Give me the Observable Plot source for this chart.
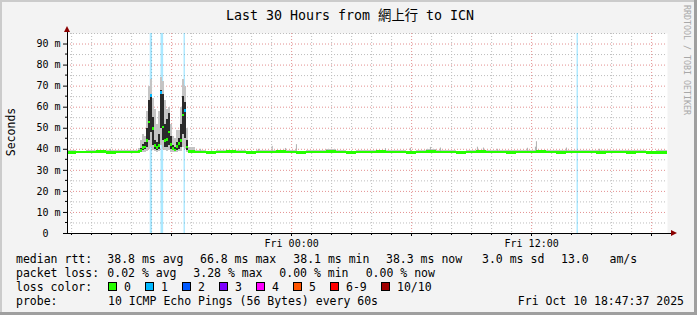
<!DOCTYPE html>
<html>
<head>
<meta charset="utf-8">
<script src="https://cdn.jsdelivr.net/npm/d3@7"></script>
<script src="https://cdn.jsdelivr.net/npm/@observablehq/plot@0.6"></script>
<style>
  html, body { margin: 0; padding: 0; background: #f3f3f3; }
  #chart { width: 697px; height: 315px; overflow: hidden; }
</style>
</head>
<body>
<div id="chart"></div>
<script>
// ---------- DATA (hours since Thu 00:00, values in ms) ----------
const tStart = 12 + 47/60 + 37/3600;   // Thu Oct 9 12:47:37
const tEnd = tStart + 30;               // Fri Oct 10 18:47:37

const baseTimes = [13.0,13.5,14.0,14.5,15.0,15.5,16.0,
  19.5,20.0,20.5,21.0,21.5,22.0,22.5,23.0,23.5,24.0,
  24.5,25.0,25.5,26.0,26.5,27.0,27.5,28.0,28.5,29.0,
  29.5,30.0,30.5,31.0,31.5,32.0,32.5,33.0,33.5,34.0,
  34.5,35.0,35.5,36.0,36.5,37.0,37.5,38.0,38.5,39.0,
  39.5,40.0,40.5,41.0,41.5,42.0,42.5];
const baseMedian = [38.3,38.5,38.4,38.6,38.3,38.5,38.4,
  38.4,38.3,38.5,38.6,38.4,38.3,38.5,38.4,38.6,38.5,
  38.3,38.4,38.5,38.6,38.4,38.3,38.5,38.4,38.6,38.5,
  38.4,38.3,38.5,38.6,38.4,38.5,38.3,38.4,38.6,38.5,
  38.4,38.3,38.5,38.4,38.6,38.5,38.3,38.4,38.5,38.4,
  38.3,38.4,38.5,38.3,38.4,38.2,38.3];
const baseMin = [38.0,38.2,38.1,38.2,38.0,38.2,38.1,
  38.1,38.0,38.2,38.2,38.1,38.0,38.2,38.1,38.2,38.2,
  38.0,38.1,38.2,38.2,38.1,38.0,38.2,38.1,38.3,38.2,
  38.1,38.0,38.2,38.2,38.1,38.2,38.0,38.1,38.2,38.2,
  38.1,38.0,38.2,38.1,38.2,38.2,38.0,38.1,38.2,38.1,
  38.0,38.1,38.2,38.0,38.1,37.9,38.0];
const baseMax = [39.2,39.0,39.4,39.1,39.3,39.6,39.4,
  39.3,39.1,39.5,39.2,39.4,39.0,39.6,39.3,39.2,39.5,
  39.1,39.4,39.3,39.7,39.2,39.1,39.5,39.3,39.6,39.4,
  39.2,39.1,39.5,39.8,39.3,39.4,39.1,39.3,39.6,39.4,
  39.3,39.2,39.5,39.3,39.6,39.4,39.2,39.3,39.5,39.3,
  39.2,39.3,39.4,39.2,39.3,39.1,39.2];

const burstTimes  = [16.3,16.4,16.5,16.6,16.7,16.8,16.9,17.0,17.1,17.2,17.3,17.4,17.5,17.6,
  17.7,17.8,17.9,18.0,18.1,18.2,18.3,18.4,18.5,18.6,18.7,18.8,18.9];
const burstMedian = [38.4,38.6,39.2,40.5,40.9,44.0,52.7,65.4,49.7,41.7,40.5,41.7,66.8,50.4,
  44.0,44.5,48.0,42.0,40.0,39.5,41.0,42.5,44.0,56.0,58.3,40.9,38.6];
const burstMin    = [38.1,38.2,38.3,38.5,38.6,39.0,40.0,41.0,39.5,38.8,38.6,38.8,42.0,40.0,
  39.2,39.0,39.5,38.7,38.5,38.4,38.6,38.8,39.0,41.0,40.0,38.6,38.2];
const burstQ1     = [38.3,38.4,38.7,39.5,39.8,41.0,44.0,48.0,42.0,40.0,39.5,40.0,50.0,44.0,
  41.0,41.0,42.0,40.0,39.3,39.0,39.5,40.0,41.0,47.0,45.0,39.5,38.4];
const burstQ3     = [38.8,39.2,40.5,42.5,43.0,50.0,63.0,66.0,55.0,44.0,43.0,47.0,68.0,66.0,
  52.0,54.0,57.0,46.0,42.0,41.0,43.0,45.0,52.0,65.0,62.0,44.0,39.5];
const burstMax    = [39.6,40.5,44.0,47.0,46.0,58.0,70.0,73.0,64.0,59.0,52.0,58.0,74.0,72.0,
  63.0,59.0,60.0,52.0,46.0,45.0,49.0,49.0,60.0,73.0,70.0,50.0,41.0];
const burstLoss   = [0,0,0,0,0,0,0,1,0,0,0,0,1,0,0,0,0,0,0,0,0,0,0,0,1,0,0];

const spikeTimes = [14.94,19.44,22.34,23.03,23.69,24.24,28.69,29.94,30.94,31.44,33.29,33.59,34.29,35.79,36.19,36.24,37.74,39.39];
const spikeMax   = [40.0,40.0,40.0,41.4,40.4,42.2,40.3,40.5,40.9,40.6,41.0,40.6,40.0,40.5,41.0,43.6,40.6,40.0];

const lossStart = [16.93,17.47,18.62,38.27];
const lossEnd   = [17.04,17.60,18.69,38.34];
const lossCount = [1,1,1,1];

const yTicks = [0,10,20,30,40,50,60,70,80,90];
const yMinor = [5,15,25,35,45,55,65,75,85,95];
const xLabelTicks = [24, 36];
const xLabels = ["Fri 00:00", "Fri 12:00"];
const xMajorGrid = [18, 24, 30, 36, 42];

const lossLabels = ["0","1","2","3","4","5","6-9","10/10"];
const lossColors = ["#26ff00","#00b8ff","#0059ff","#7e00ff","#ff00ff","#ff5500","#ff0000","#a00000"];

const titleText = "Last 30 Hours from 網上行 to ICN";
const legendRtt = ["median rtt:", "38.8 ms avg", "66.8 ms max", "38.1 ms min", "38.3 ms now", "3.0 ms sd", "13.0   am/s"];
const legendLoss = ["packet loss:", "0.02 % avg", "3.28 % max", "0.00 % min", "0.00 % now"];
const probeText = ["probe:", "10 ICMP Echo Pings (56 Bytes) every 60s", "Fri Oct 10 18:47:37 2025"];

// ---------- build tables ----------
const samples = [];
baseTimes.forEach((t, i) => samples.push({t, med: baseMedian[i], min: baseMin[i], max: baseMax[i], loss: 0}));
burstTimes.forEach((t, i) => samples.push({t, med: burstMedian[i], min: burstMin[i], q1: burstQ1[i], q3: burstQ3[i], max: burstMax[i], loss: burstLoss[i]}));
samples.sort((a, b) => a.t - b.t);
samples.forEach((d, i) => {
  d.x1 = i ? (samples[i - 1].t + d.t) / 2 : tStart;
  d.x2 = i < samples.length - 1 ? (d.t + samples[i + 1].t) / 2 : tEnd;
});
const inner = samples.filter(d => d.q1 != null);
const spikes = spikeTimes.map((t, i) => ({t, max: spikeMax[i]}));
const losses = lossStart.map((t1, i) => ({t1, t2: lossEnd[i], n: lossCount[i]}));

const hours = d3.range(Math.ceil(tStart), tEnd, 1);
const xMinorGrid = hours.filter(h => !xMajorGrid.includes(h));

const FONT = "'DejaVu Sans Mono', 'Noto Sans CJK TC', monospace";
const half = 0.62; // half thickness of the median dash, ms

const plot = Plot.plot({
  width: 697, height: 315,
  marginTop: 33, marginBottom: 82, marginLeft: 67, marginRight: 30,
  style: {background: "#f3f3f3", fontFamily: FONT, fontSize: "10px", color: "black", overflow: "visible"},
  x: {type: "linear", domain: [tStart, tEnd], ticks: xLabelTicks,
      tickFormat: d => xLabels[xLabelTicks.indexOf(d)], tickSize: 0, tickPadding: 6, label: null},
  y: {domain: [0, 95], ticks: yTicks, tickFormat: d => d === 0 ? "0\u00a0\u00a0" : d + " m",
      tickSize: 4, tickPadding: 3, label: null},
  marks: [
    Plot.frame({fill: "white", stroke: "none"}),
    Plot.ruleY(yMinor, {stroke: "#bdbdbd", strokeDasharray: "1,2"}),
    Plot.ruleX(xMinorGrid, {stroke: "#bdbdbd", strokeDasharray: "1,2"}),
    Plot.ruleY(yTicks.filter(v => v > 0), {stroke: "#e39090", strokeDasharray: "1,2"}),
    Plot.ruleX(xMajorGrid, {stroke: "#e39090", strokeDasharray: "1,2"}),
    Plot.rect(losses, {x1: "t1", x2: "t2", y1: 0, y2: 95, fill: d => lossColors[d.n], fillOpacity: 0.33}),
    Plot.rect(samples, {x1: "x1", x2: "x2", y1: "min", y2: "max", fill: "#c4c4c4", shapeRendering: "crispEdges"}),
    Plot.rect(inner, {x1: "x1", x2: "x2", y1: "q1", y2: "q3", fill: "#2a2a2a", shapeRendering: "crispEdges"}),
    Plot.ruleX(spikes, {x: "t", y1: 38.6, y2: "max", stroke: "#b0b0b0", strokeWidth: 1}),
    Plot.rect(samples, {x1: "x1", x2: "x2", y1: d => d.med - half, y2: d => d.med + half,
                        fill: d => lossColors[d.loss], shapeRendering: "crispEdges"}),
    Plot.ruleY([0], {x1: tStart, x2: tEnd + 0.2, stroke: "black"}),
    Plot.ruleX([tStart], {y1: 0, y2: 95 + 0.95, stroke: "black"})
  ]
});

document.getElementById("chart").appendChild(plot);

// ---------- decorations using the plot's scales ----------
const sx = plot.scale("x"), sy = plot.scale("y");
const svg = d3.select(plot);
const X = v => sx.apply(v), Y = v => sy.apply(v);
const x0 = X(tStart), y0 = Y(0);

// minor axis ticks
const tickG = svg.append("g").attr("stroke", "black").attr("stroke-width", 1);
hours.forEach(h => tickG.append("line").attr("x1", Math.round(X(h)) + 0.5).attr("x2", Math.round(X(h)) + 0.5)
  .attr("y1", y0).attr("y2", y0 + (xMajorGrid.includes(h) ? 3 : 2)));
yMinor.filter(v => v < 95).forEach(v => tickG.append("line").attr("x1", x0 - 2).attr("x2", x0)
  .attr("y1", Y(v)).attr("y2", Y(v)));

// arrows
const ARROW = "#8b0000";
svg.append("polygon").attr("fill", ARROW)
  .attr("points", `${x0},${Y(95) - 7} ${x0 - 3},${Y(95) - 1} ${x0 + 3},${Y(95) - 1}`);
const xe = X(tEnd) + 4;
svg.append("polygon").attr("fill", ARROW)
  .attr("points", `${xe + 6},${y0} ${xe},${y0 - 3} ${xe},${y0 + 3}`);

// frame shading
svg.append("rect").attr("x", 0).attr("y", 0).attr("width", 697).attr("height", 2).attr("fill", "#cbcbcb");
svg.append("rect").attr("x", 0).attr("y", 0).attr("width", 2).attr("height", 315).attr("fill", "#cbcbcb");
svg.append("rect").attr("x", 694).attr("y", 0).attr("width", 3).attr("height", 315).attr("fill", "#9f9f9f");
svg.append("rect").attr("x", 0).attr("y", 312).attr("width", 697).attr("height", 3).attr("fill", "#9f9f9f");

const txt = (x, y, s, size, opts = {}) => {
  const t = svg.append("text").attr("x", x).attr("y", y).text(s)
    .attr("font-family", FONT).attr("font-size", size).attr("fill", opts.fill || "black")
    .attr("text-anchor", opts.anchor || "start")
    .attr("xml:space", "preserve").style("white-space", "pre");
  if (opts.transform) t.attr("transform", opts.transform).attr("x", 0).attr("y", 0);
  return t;
};

// title
txt(350, 20, titleText, "13.3px", {anchor: "middle"});
// watermark
txt(0, 0, "RRDTOOL / TOBI OETIKER", "8.3px", {fill: "#a8a8a8", transform: "translate(684,5) rotate(90)"});
// y unit label
txt(0, 0, "Seconds", "11.5px", {anchor: "middle", transform: "translate(15,132) rotate(-90)"});

// legend
const LF = "11.5px";
const rttX = [16, 107.3, 200, 293.3, 386, 482, 561];
legendRtt.forEach((s, i) => txt(rttX[i], 263, s, LF));
const lossX = [16, 107.3, 193.3, 279.3, 365.7];
legendLoss.forEach((s, i) => txt(lossX[i], 277, s, LF));
txt(16, 291, "loss color:", LF);
const boxX = [108.5, 145.5, 182.5, 219.5, 256.5, 293.5, 330.5, 381.5];
lossLabels.forEach((s, i) => {
  svg.append("rect").attr("x", boxX[i]).attr("y", 282.5).attr("width", 8).attr("height", 8)
    .attr("fill", lossColors[i]).attr("stroke", "black").attr("stroke-width", 1);
  txt(boxX[i] + 15.5, 291, s, LF);
});
txt(16, 305, probeText[0], LF);
txt(108, 305, probeText[1], LF);
txt(684, 305, probeText[2], LF, {anchor: "end"});
</script>
</body>
</html>
